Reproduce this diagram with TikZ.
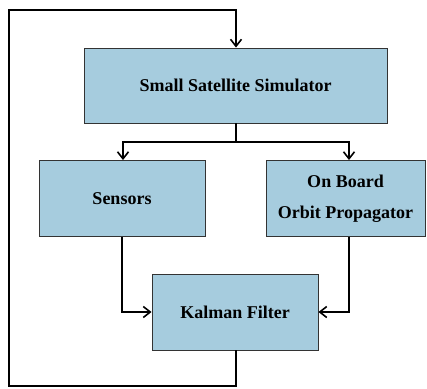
\documentclass[tikz,border=0pt]{standalone}
\usepackage{fontspec}
\setmainfont{Liberation Serif}
\usetikzlibrary{arrows.meta}
\definecolor{boxblue}{RGB}{166,204,222}
\begin{document}
\begin{tikzpicture}[x=1pt,y=-1pt,
  blk/.style={draw=black!80,line width=0.9pt,fill=boxblue,inner sep=0pt,
    font=\fontsize{18}{31}\selectfont\bfseries,align=center},
  conn/.style={line width=2pt,-{Straight Barb[length=7pt,width=11pt,line width=1.6pt]}},
  wire/.style={line width=2pt}]
\useasboundingbox (0,0) rectangle (427,388);
\node[blk,minimum width=303pt,minimum height=75pt] (sim) at (235.5,85.5) {Small Satellite Simulator};
\node[blk,minimum width=166pt,minimum height=76pt] (sen) at (122,198.5) {Sensors};
\node[blk,minimum width=159pt,minimum height=76pt] (obp) at (345.5,198.5) {On Board\\Orbit Propagator};
\node[blk,minimum width=166pt,minimum height=76pt] (kf) at (235,312) {Kalman Filter};
\coordinate (split) at (236,142);
\draw[wire] (sim.south -| split) -- (split);
\draw[conn] (split) -- (123,142) -- (sen.north -| 123,0);
\draw[conn] (split) -- (349,142) -- (obp.north -| 349,0);
\draw[conn] (sen.south) -- (sen.south |- kf.west) -- (kf.west);
\draw[conn] (obp.south -| 349,0) -- (349,312) -- (kf.east);
\draw[conn] (kf.south -| 236,0) -- (236,386) -- (8.5,386) -- (8.5,10) -- (236,10) -- (sim.north -| 236,0);
\end{tikzpicture}
\end{document}
